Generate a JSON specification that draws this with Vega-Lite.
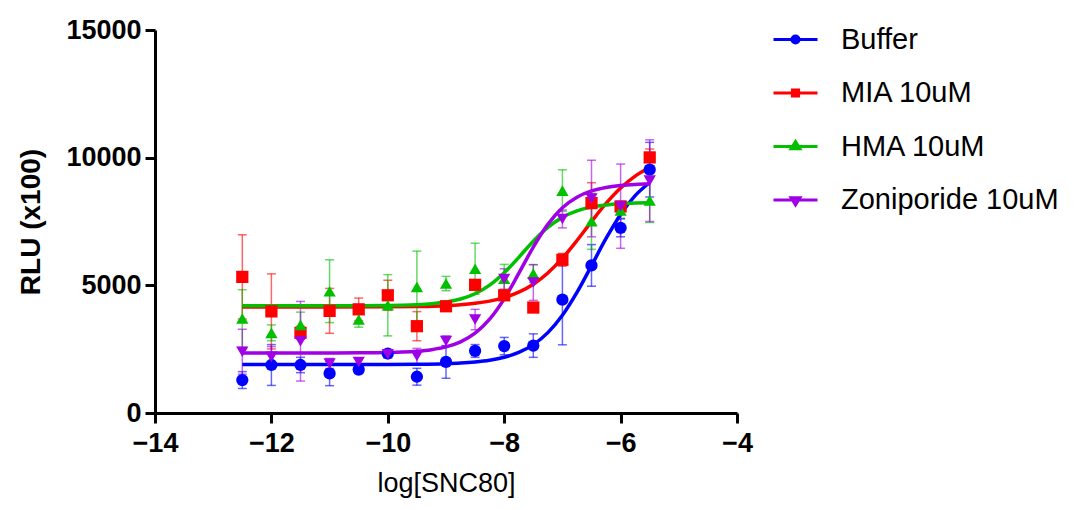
{
  "$schema": "https://vega.github.io/schema/vega-lite/v6.json",
  "width": 582,
  "height": 383,
  "autosize": "none",
  "padding": {"left": 155, "top": 30, "right": 338, "bottom": 97},
  "background": "white",
  "config": {
    "view": {"stroke": null},
    "font": "Liberation Sans",
    "axis": {
      "grid": false,
      "domainColor": "black",
      "domainWidth": 3,
      "tickColor": "black",
      "tickWidth": 3,
      "tickSize": 10,
      "labelColor": "black",
      "labelFont": "Liberation Sans",
      "labelFontWeight": "bold",
      "labelFontSize": 27,
      "titleColor": "black",
      "titleFont": "Liberation Sans"
    }
  },
  "datasets": {
    "pts": [
      {"series": "Buffer", "x": -12.5, "y": 1290, "err": 330},
      {"series": "Buffer", "x": -12, "y": 1880, "err": 800},
      {"series": "Buffer", "x": -11.5, "y": 1880, "err": 300},
      {"series": "Buffer", "x": -11, "y": 1550, "err": 480},
      {"series": "Buffer", "x": -10.5, "y": 1700, "err": 150},
      {"series": "Buffer", "x": -10, "y": 2330, "err": 150},
      {"series": "Buffer", "x": -9.5, "y": 1420, "err": 330},
      {"series": "Buffer", "x": -9, "y": 2000, "err": 640},
      {"series": "Buffer", "x": -8.5, "y": 2430, "err": 250},
      {"series": "Buffer", "x": -8, "y": 2620, "err": 340},
      {"series": "Buffer", "x": -7.5, "y": 2640, "err": 460},
      {"series": "Buffer", "x": -7, "y": 4440, "err": 1770},
      {"series": "Buffer", "x": -6.5, "y": 5780, "err": 815},
      {"series": "Buffer", "x": -6, "y": 7250, "err": 350},
      {"series": "Buffer", "x": -5.5, "y": 9530, "err": 1070},
      {"series": "MIA 10uM", "x": -12.5, "y": 5330, "err": 1650},
      {"series": "MIA 10uM", "x": -12, "y": 3980, "err": 1470},
      {"series": "MIA 10uM", "x": -11.5, "y": 3140, "err": 250},
      {"series": "MIA 10uM", "x": -11, "y": 4000, "err": 880},
      {"series": "MIA 10uM", "x": -10.5, "y": 4060, "err": 440},
      {"series": "MIA 10uM", "x": -10, "y": 4610, "err": 590},
      {"series": "MIA 10uM", "x": -9.5, "y": 3400, "err": 570},
      {"series": "MIA 10uM", "x": -9, "y": 4180, "err": 150},
      {"series": "MIA 10uM", "x": -8.5, "y": 5020, "err": 200},
      {"series": "MIA 10uM", "x": -8, "y": 4610, "err": 200},
      {"series": "MIA 10uM", "x": -7.5, "y": 4130, "err": 150},
      {"series": "MIA 10uM", "x": -7, "y": 6000, "err": 250},
      {"series": "MIA 10uM", "x": -6.5, "y": 8220, "err": 800},
      {"series": "MIA 10uM", "x": -6, "y": 8090, "err": 200},
      {"series": "MIA 10uM", "x": -5.5, "y": 10010, "err": 330},
      {"series": "HMA 10uM", "x": -12.5, "y": 3700, "err": 1130},
      {"series": "HMA 10uM", "x": -12, "y": 3140, "err": 310},
      {"series": "HMA 10uM", "x": -11.5, "y": 3450, "err": 500},
      {"series": "HMA 10uM", "x": -11, "y": 4770, "err": 1230},
      {"series": "HMA 10uM", "x": -10.5, "y": 3660, "err": 300},
      {"series": "HMA 10uM", "x": -10, "y": 4220, "err": 1200},
      {"series": "HMA 10uM", "x": -9.5, "y": 4940, "err": 1400},
      {"series": "HMA 10uM", "x": -9, "y": 5070, "err": 280},
      {"series": "HMA 10uM", "x": -8.5, "y": 5650, "err": 1000},
      {"series": "HMA 10uM", "x": -8, "y": 5260, "err": 560},
      {"series": "HMA 10uM", "x": -7.5, "y": 5460, "err": 350},
      {"series": "HMA 10uM", "x": -7, "y": 8710, "err": 815},
      {"series": "HMA 10uM", "x": -6.5, "y": 7510, "err": 1100},
      {"series": "HMA 10uM", "x": -6, "y": 7930, "err": 300},
      {"series": "HMA 10uM", "x": -5.5, "y": 8320, "err": 860},
      {"series": "Zoniporide 10uM", "x": -12.5, "y": 2400, "err": 880},
      {"series": "Zoniporide 10uM", "x": -12, "y": 2200, "err": 400},
      {"series": "Zoniporide 10uM", "x": -11.5, "y": 2810, "err": 1560},
      {"series": "Zoniporide 10uM", "x": -11, "y": 1940, "err": 200},
      {"series": "Zoniporide 10uM", "x": -10.5, "y": 2000, "err": 150},
      {"series": "Zoniporide 10uM", "x": -10, "y": 2300, "err": 150},
      {"series": "Zoniporide 10uM", "x": -9.5, "y": 2230, "err": 300},
      {"series": "Zoniporide 10uM", "x": -9, "y": 2820, "err": 200},
      {"series": "Zoniporide 10uM", "x": -8.5, "y": 3660, "err": 400},
      {"series": "Zoniporide 10uM", "x": -8, "y": 5250, "err": 400},
      {"series": "Zoniporide 10uM", "x": -7.5, "y": 5110, "err": 700},
      {"series": "Zoniporide 10uM", "x": -7, "y": 7600, "err": 350},
      {"series": "Zoniporide 10uM", "x": -6.5, "y": 8400, "err": 1500},
      {"series": "Zoniporide 10uM", "x": -6, "y": 8100, "err": 1650},
      {"series": "Zoniporide 10uM", "x": -5.5, "y": 9100, "err": 1600}
    ],
    "fit": [
      {"series": "Buffer", "x": -12.5, "y": 1900},
      {"series": "Buffer", "x": -11, "y": 1901},
      {"series": "Buffer", "x": -10, "y": 1904},
      {"series": "Buffer", "x": -9.5, "y": 1911},
      {"series": "Buffer", "x": -9, "y": 1933},
      {"series": "Buffer", "x": -8.75, "y": 1957},
      {"series": "Buffer", "x": -8.5, "y": 1998},
      {"series": "Buffer", "x": -8.25, "y": 2066},
      {"series": "Buffer", "x": -8, "y": 2182},
      {"series": "Buffer", "x": -7.75, "y": 2372},
      {"series": "Buffer", "x": -7.5, "y": 2677},
      {"series": "Buffer", "x": -7.25, "y": 3148},
      {"series": "Buffer", "x": -7, "y": 3828},
      {"series": "Buffer", "x": -6.75, "y": 4724},
      {"series": "Buffer", "x": -6.5, "y": 5771},
      {"series": "Buffer", "x": -6.25, "y": 6835},
      {"series": "Buffer", "x": -6, "y": 7778},
      {"series": "Buffer", "x": -5.75, "y": 8512},
      {"series": "Buffer", "x": -5.5, "y": 9027},
      {"series": "MIA 10uM", "x": -12.5, "y": 4150},
      {"series": "MIA 10uM", "x": -11, "y": 4151},
      {"series": "MIA 10uM", "x": -10, "y": 4158},
      {"series": "MIA 10uM", "x": -9.5, "y": 4171},
      {"series": "MIA 10uM", "x": -9, "y": 4205},
      {"series": "MIA 10uM", "x": -8.75, "y": 4239},
      {"series": "MIA 10uM", "x": -8.5, "y": 4295},
      {"series": "MIA 10uM", "x": -8.25, "y": 4382},
      {"series": "MIA 10uM", "x": -8, "y": 4520},
      {"series": "MIA 10uM", "x": -7.75, "y": 4731},
      {"series": "MIA 10uM", "x": -7.5, "y": 5044},
      {"series": "MIA 10uM", "x": -7.25, "y": 5485},
      {"series": "MIA 10uM", "x": -7, "y": 6063},
      {"series": "MIA 10uM", "x": -6.75, "y": 6756},
      {"series": "MIA 10uM", "x": -6.5, "y": 7498},
      {"series": "MIA 10uM", "x": -6.25, "y": 8206},
      {"series": "MIA 10uM", "x": -6, "y": 8810},
      {"series": "MIA 10uM", "x": -5.75, "y": 9279},
      {"series": "MIA 10uM", "x": -5.5, "y": 9616},
      {"series": "HMA 10uM", "x": -12.5, "y": 4200},
      {"series": "HMA 10uM", "x": -11, "y": 4201},
      {"series": "HMA 10uM", "x": -10.5, "y": 4203},
      {"series": "HMA 10uM", "x": -10, "y": 4212},
      {"series": "HMA 10uM", "x": -9.75, "y": 4222},
      {"series": "HMA 10uM", "x": -9.5, "y": 4242},
      {"series": "HMA 10uM", "x": -9.25, "y": 4278},
      {"series": "HMA 10uM", "x": -9, "y": 4345},
      {"series": "HMA 10uM", "x": -8.75, "y": 4465},
      {"series": "HMA 10uM", "x": -8.5, "y": 4671},
      {"series": "HMA 10uM", "x": -8.25, "y": 5006},
      {"series": "HMA 10uM", "x": -8, "y": 5491},
      {"series": "HMA 10uM", "x": -7.75, "y": 6097},
      {"series": "HMA 10uM", "x": -7.5, "y": 6727},
      {"series": "HMA 10uM", "x": -7.25, "y": 7268},
      {"series": "HMA 10uM", "x": -7, "y": 7662},
      {"series": "HMA 10uM", "x": -6.75, "y": 7915},
      {"series": "HMA 10uM", "x": -6.5, "y": 8065},
      {"series": "HMA 10uM", "x": -6.25, "y": 8150},
      {"series": "HMA 10uM", "x": -6, "y": 8196},
      {"series": "HMA 10uM", "x": -5.75, "y": 8221},
      {"series": "HMA 10uM", "x": -5.5, "y": 8235},
      {"series": "Zoniporide 10uM", "x": -12.5, "y": 2350},
      {"series": "Zoniporide 10uM", "x": -11.5, "y": 2350},
      {"series": "Zoniporide 10uM", "x": -11, "y": 2352},
      {"series": "Zoniporide 10uM", "x": -10.5, "y": 2356},
      {"series": "Zoniporide 10uM", "x": -10, "y": 2370},
      {"series": "Zoniporide 10uM", "x": -9.75, "y": 2387},
      {"series": "Zoniporide 10uM", "x": -9.5, "y": 2419},
      {"series": "Zoniporide 10uM", "x": -9.25, "y": 2479},
      {"series": "Zoniporide 10uM", "x": -9, "y": 2588},
      {"series": "Zoniporide 10uM", "x": -8.75, "y": 2785},
      {"series": "Zoniporide 10uM", "x": -8.5, "y": 3124},
      {"series": "Zoniporide 10uM", "x": -8.25, "y": 3673},
      {"series": "Zoniporide 10uM", "x": -8, "y": 4469},
      {"series": "Zoniporide 10uM", "x": -7.75, "y": 5465},
      {"series": "Zoniporide 10uM", "x": -7.5, "y": 6500},
      {"series": "Zoniporide 10uM", "x": -7.25, "y": 7388},
      {"series": "Zoniporide 10uM", "x": -7, "y": 8035},
      {"series": "Zoniporide 10uM", "x": -6.75, "y": 8450},
      {"series": "Zoniporide 10uM", "x": -6.5, "y": 8696},
      {"series": "Zoniporide 10uM", "x": -6.25, "y": 8835},
      {"series": "Zoniporide 10uM", "x": -6, "y": 8911},
      {"series": "Zoniporide 10uM", "x": -5.75, "y": 8953},
      {"series": "Zoniporide 10uM", "x": -5.5, "y": 8975}
    ]
  },
  "encoding": {
    "x": {
      "field": "x",
      "type": "quantitative",
      "scale": {"domain": [-14, -4], "nice": false, "zero": false},
      "axis": {
        "values": [-14, -12, -10, -8, -6, -4],
        "title": "log[SNC80]",
        "titleFontSize": 27,
        "titleFontWeight": "normal",
        "titlePadding": 14,
        "labelPadding": 7,
        "labelFlush": false
      }
    },
    "y": {
      "field": "y",
      "type": "quantitative",
      "scale": {"domain": [0, 15000], "nice": false},
      "axis": {
        "values": [0, 5000, 10000, 15000],
        "format": "d",
        "title": "RLU (x100)",
        "titleFontSize": 28,
        "titleFontWeight": "bold",
        "titlePadding": 20,
        "labelPadding": 4
      }
    },
    "color": {
      "field": "series",
      "type": "nominal",
      "scale": {
        "domain": ["Buffer", "MIA 10uM", "HMA 10uM", "Zoniporide 10uM"],
        "range": ["#0000FF", "#FF0000", "#00C000", "#A000E6"]
      },
      "legend": null
    }
  },
  "resolve": {"scale": {"shape": "independent"}, "legend": {"shape": "independent"}},
  "layer": [
    {
      "data": {"name": "pts"},
      "mark": {"type": "errorbar", "ticks": {"size": 9, "opacity": 0.6}, "rule": {"strokeWidth": 1.5, "opacity": 0.6}, "thickness": 1.5},
      "encoding": {
        "yError": {"field": "err"}
      }
    },
    {
      "data": {"name": "fit"},
      "mark": {"type": "line", "strokeWidth": 3.5, "interpolate": "monotone"}
    },
    {
      "data": {"name": "pts"},
      "mark": {"type": "point", "filled": true, "opacity": 1, "size": 150},
      "encoding": {
        "shape": {
          "field": "series",
          "type": "nominal",
          "scale": {
            "domain": ["Buffer", "MIA 10uM", "HMA 10uM", "Zoniporide 10uM"],
            "range": ["circle", "square", "triangle-up", "triangle-down"]
          },
          "legend": null
        }
      }
    },
    {
      "data": {"name": "pts"},
      "mark": {"type": "point", "filled": true, "opacity": 0},
      "encoding": {
        "shape": {
          "field": "series",
          "type": "nominal",
          "scale": {
            "domain": ["Buffer", "MIA 10uM", "HMA 10uM", "Zoniporide 10uM"],
            "range": [
              "M-1,0H1M-0.16,0A0.16,0.16 0 1,0 0.16,0A0.16,0.16 0 1,0 -0.16,0Z",
              "M-1,0H1M-0.14,-0.14H0.14V0.14H-0.14Z",
              "M-1,0H1M0,-0.22L0.2,0.1H-0.2Z",
              "M-1,0H1M0,0.22L0.2,-0.1H-0.2Z"
            ]
          },
          "legend": {
            "title": null,
            "orient": "none",
            "legendX": 617,
            "legendY": -14,
            "symbolSize": 1936,
            "symbolStrokeWidth": 3,
            "symbolOpacity": 1,
            "labelFontSize": 29,
            "labelFont": "Liberation Sans",
            "labelColor": "black",
            "labelOffset": 22,
            "labelLimit": 400,
            "rowPadding": 14.5,
            "encoding": {
              "symbols": {
                "fill": {"value": {"expr": "scale('color', datum.value)"}},
                "stroke": {"value": {"expr": "scale('color', datum.value)"}},
                "opacity": {"value": 1},
                "strokeWidth": {"value": 3}
              }
            }
          }
        }
      }
    }
  ]
}
